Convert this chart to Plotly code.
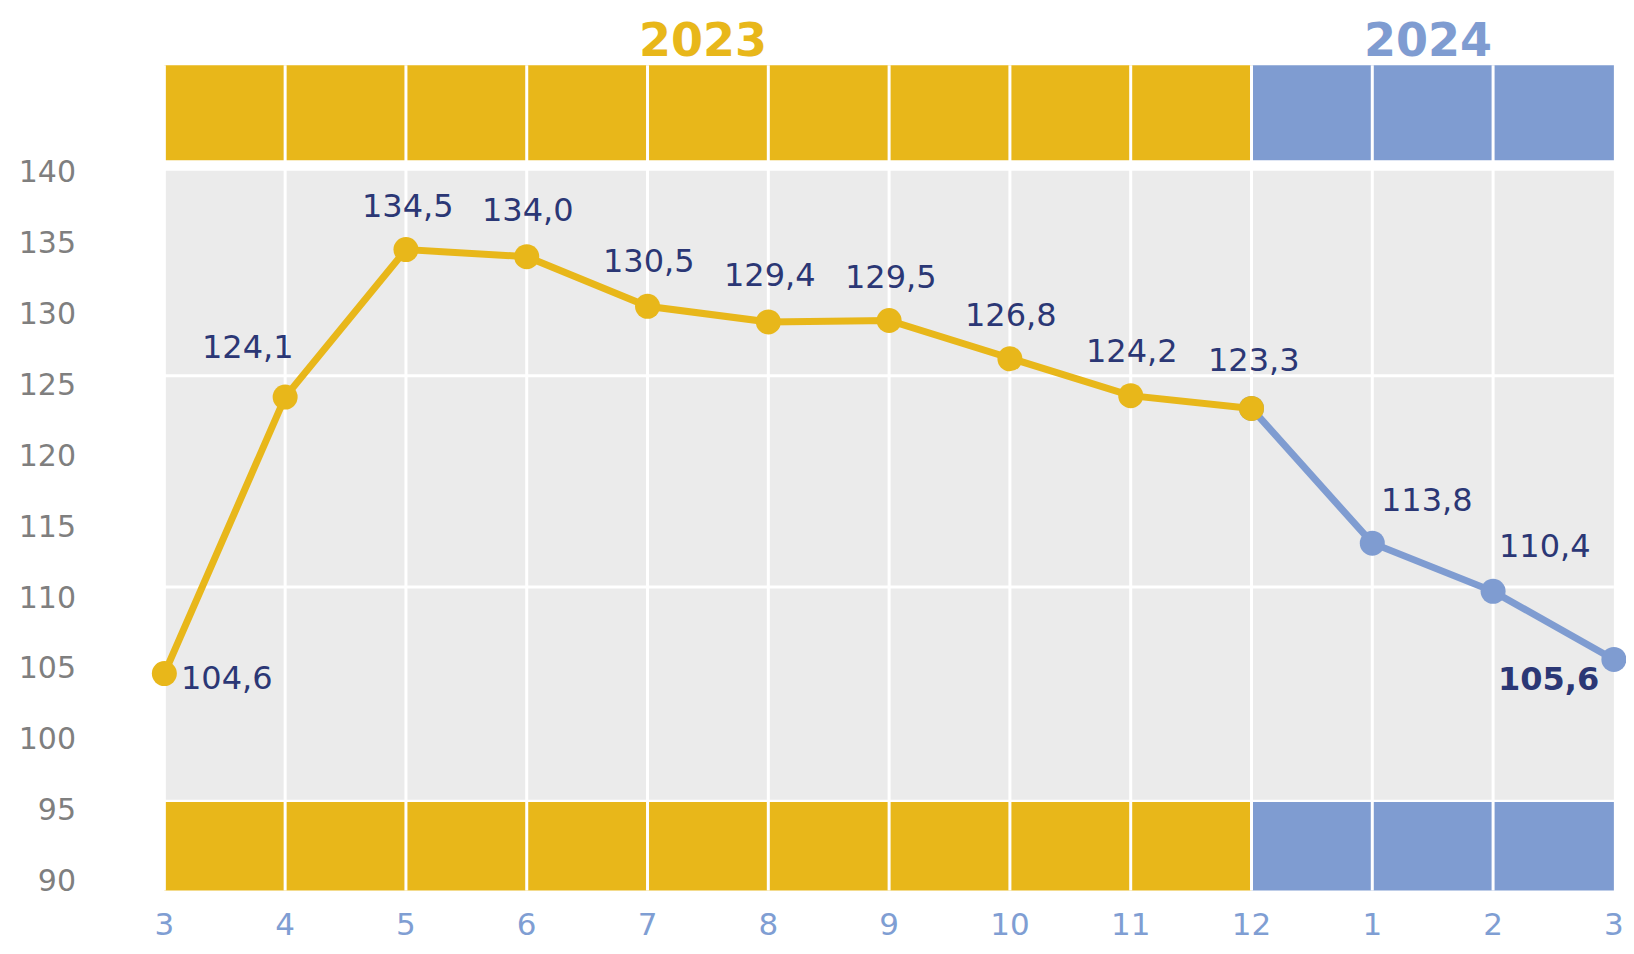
import plotly.graph_objects as go

# ---- data ----
months = ["3", "4", "5", "6", "7", "8", "9", "10", "11", "12", "1", "2", "3"]
years = ["2023"] * 10 + ["2024"] * 3
values = [104.6, 124.1, 134.5, 134.0, 130.5, 129.4, 129.5, 126.8, 124.2, 123.3, 113.8, 110.4, 105.6]
y_ticks = [90, 95, 100, 105, 110, 115, 120, 125, 130, 135, 140]

GOLD = "#E8B71A"
BLUE = "#7F9CD1"
NAVY = "#2B3775"
GREY_BG = "#EBEBEB"
FONT = "Verdana, DejaVu Sans, sans-serif"

xs = list(range(len(months)))
split = years.index("2024") - 1  # last 2023 point (index 9)

fig = go.Figure()

# blue 2024 segment (drawn first so the gold marker at the join stays on top)
fig.add_trace(go.Scatter(
    x=xs[split:], y=values[split:], mode="lines+markers",
    line=dict(color=BLUE, width=7), marker=dict(color=BLUE, size=25),
    cliponaxis=False, hoverinfo="skip", showlegend=False))
fig.add_trace(go.Scatter(
    x=xs[:split + 1], y=values[:split + 1], mode="lines+markers",
    line=dict(color=GOLD, width=7), marker=dict(color=GOLD, size=25),
    cliponaxis=False, hoverinfo="skip", showlegend=False))

# ---- background shapes ----
n = len(xs) - 1
shapes = []
grey_top, grey_bot = 140.07, 95.7
band_top = (140.8, 147.5)
band_bot = (89.3, 95.55)
shapes.append(dict(type="rect", xref="x", yref="y", x0=0, x1=n, y0=grey_bot, y1=grey_top,
                   fillcolor=GREY_BG, line=dict(width=0), layer="below"))
for i in range(n):
    col = GOLD if i < split else BLUE
    for (b0, b1) in (band_top, band_bot):
        shapes.append(dict(type="rect", xref="x", yref="y", x0=i, x1=i + 1, y0=b0, y1=b1,
                           fillcolor=col, line=dict(width=0), layer="below"))
# white grid lines
for gy in (125.6, 110.7):
    shapes.append(dict(type="line", xref="x", yref="y", x0=0, x1=n, y0=gy, y1=gy,
                       line=dict(color="white", width=3), layer="below"))
for i in range(n):
    shapes.append(dict(type="line", xref="x", yref="y", x0=i, x1=i, y0=band_bot[0], y1=band_top[1],
                       line=dict(color="white", width=3), layer="below"))

# ---- data labels ----
offsets = [(15, -4, "left"), (-37, 50, "center"), (2, 44, "center"), (1, 47, "center"),
           (1, 45, "center"), (2, 47, "center"), (2, 44, "center"), (1, 44, "center"),
           (1, 45, "center"), (2, 48, "center"), (55, 43, "center"), (52, 45, "center"),
           (-65, -20, "center")]
annotations = []
for i, v in enumerate(values):
    dx, dy, xa = offsets[i]
    last = i == len(values) - 1
    txt = f"{v:.1f}".replace(".", ",")
    annotations.append(dict(
        x=xs[i], y=v, xref="x", yref="y", text=f"<b>{txt}</b>" if last else txt,
        showarrow=False, xshift=dx, yshift=dy, xanchor=xa, yanchor="middle",
        font=dict(family=FONT, size=32, color=NAVY)))

# year labels
for yr, col in (("2023", GOLD), ("2024", BLUE)):
    idx = [i for i, y in enumerate(years) if y == yr]
    x0 = max(idx[0] - 1, 0) if yr != years[0] else 0
    x1 = idx[-1]
    annotations.append(dict(
        x=(x0 + x1) / 2, y=band_top[1], xref="x", yref="y", text=f"<b>{yr}</b>",
        showarrow=False, yanchor="bottom", yshift=-4, xshift=-5,
        font=dict(family=FONT, size=46, color=col)))

fig.update_layout(
    width=1634, height=954,
    margin=dict(l=73, r=10, t=36, b=53),
    paper_bgcolor="white", plot_bgcolor="white",
    shapes=shapes, annotations=annotations,
    xaxis=dict(range=[-0.69, 12.15], tickvals=xs, ticktext=months, showgrid=False,
               zeroline=False, showline=False, ticks="", ticklabelstandoff=-6,
               tickfont=dict(family=FONT, size=31, color="#7F9ED3")),
    yaxis=dict(range=[88, 149], tickvals=y_ticks, showgrid=False, zeroline=False,
               showline=False, ticks="", ticklabelstandoff=4,
               tickfont=dict(family=FONT, size=30, color="#7F7F7F")),
)

fig.write_html("out.html")
